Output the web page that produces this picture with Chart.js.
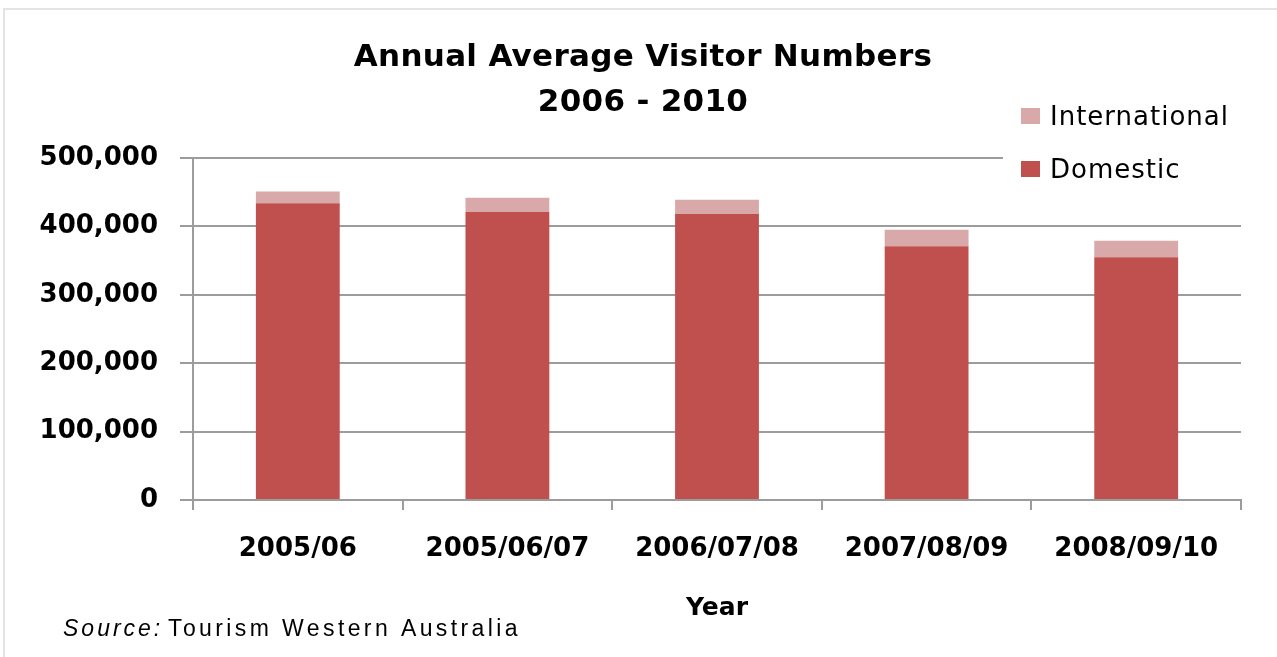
<!DOCTYPE html>
<html>
<head>
<meta charset="utf-8">
<script src="https://cdn.jsdelivr.net/npm/chart.js@4/dist/chart.umd.min.js"></script>
<style>
  html, body { margin: 0; padding: 0; background: #ffffff; }
  #frame {
    position: absolute; left: 3px; top: 8px; width: 1290px; height: 660px;
    border-top: 2px solid #e4e4e4; border-left: 2px solid #e4e4e4;
  }
  #chart { position: absolute; left: 0; top: 0; }
</style>
</head>
<body>
<div id="frame"></div>
<canvas id="chart" width="1277" height="657"></canvas>
<script>
// values
const years = ["2005/06", "2005/06/07", "2006/07/08", "2007/08/09", "2008/09/10"];
const domestic = [434000, 421000, 418000, 371000, 355000];
const international = [17000, 21000, 21000, 24000, 24000];
const yTicks = [0, 100000, 200000, 300000, 400000, 500000];

const domesticColor = "#C0504D";
const internationalColor = "#D9A8A8";
const gridColor = "#9c9c9c";

/* ---- title, legend and source note ---- */
const extrasPlugin = {
  id: "extras",
  afterDraw(chart) {
    const ctx = chart.ctx;
    ctx.save();

    // title
    ctx.fillStyle = "#000";
    ctx.textAlign = "center";
    ctx.textBaseline = "alphabetic";
    ctx.font = "bold 31px 'DejaVu Sans'";
    ctx.letterSpacing = "0.3px";
    ctx.fillText("Annual Average Visitor Numbers", 643, 66);
    ctx.fillText("2006 - 2010", 643, 111);

    // legend box sits over the top gridline
    ctx.fillStyle = "#fff";
    ctx.fillRect(1003, 95, 245, 95);

    const items = [
      { label: "International", color: internationalColor, y: 125 },
      { label: "Domestic", color: domesticColor, y: 178 }
    ];
    ctx.textAlign = "left";
    ctx.font = "26px 'DejaVu Sans'";
    ctx.letterSpacing = "1px";
    items.forEach(it => {
      ctx.fillStyle = it.color;
      ctx.fillRect(1021, it.y - 17, 19, 16);
      ctx.fillStyle = "#000";
      ctx.fillText(it.label, 1050, it.y);
    });

    // source
    ctx.font = "italic 23px 'Liberation Sans'";
    ctx.letterSpacing = "3px";
    ctx.fillText("Source:", 63, 636);
    ctx.font = "23px 'Liberation Sans'";
    ctx.letterSpacing = "3.4px";
    ctx.fillText("Tourism Western Australia", 168, 636);

    ctx.restore();
  }
};

new Chart(document.getElementById("chart"), {
  type: "bar",
  data: {
    labels: years,
    datasets: [
      {
        label: "Domestic",
        data: domestic,
        backgroundColor: domesticColor,
        barPercentage: 0.4,
        categoryPercentage: 1
      },
      {
        label: "International",
        data: international,
        backgroundColor: internationalColor,
        barPercentage: 0.4,
        categoryPercentage: 1
      }
    ]
  },
  options: {
    responsive: false,
    animation: false,
    layout: { padding: { top: 158, right: 36, left: 0, bottom: 0 } },
    plugins: {
      legend: { display: false },
      title: { display: false },
      tooltip: { enabled: false }
    },
    scales: {
      x: {
        stacked: true,
        afterFit(scale) { scale.height = 157; },
        grid: {
          drawOnChartArea: false,
          drawTicks: true,
          tickLength: 10,
          color: gridColor,
          lineWidth: 2
        },
        border: { color: gridColor, width: 2 },
        ticks: {
          color: "#000",
          padding: 24,
          maxRotation: 0,
          font: { family: "'DejaVu Sans'", size: 26, weight: "bold" }
        },
        title: {
          display: true,
          text: "Year",
          color: "#000",
          font: { family: "'DejaVu Sans'", size: 25, weight: "bold" },
          padding: { top: 0, bottom: 34 }
        }
      },
      y: {
        stacked: true,
        min: 0,
        max: 500000,
        afterFit(scale) { scale.width = 193; },
        afterBuildTicks(scale) { scale.ticks = yTicks.map(v => ({ value: v })); },
        grid: {
          color: gridColor,
          lineWidth: 2,
          drawTicks: true,
          tickLength: 13
        },
        border: { color: gridColor, width: 2 },
        ticks: {
          color: "#000",
          padding: 22,
          font: { family: "'DejaVu Sans'", size: 26, weight: "bold" },
          callback: v => v.toLocaleString("en-US")
        }
      }
    }
  },
  plugins: [extrasPlugin]
});
</script>
</body>
</html>
